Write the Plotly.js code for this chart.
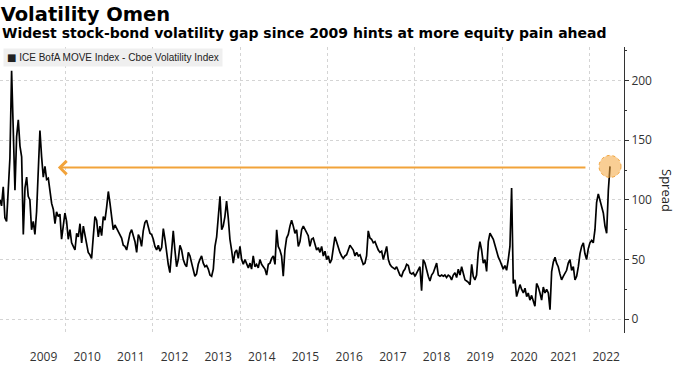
<!DOCTYPE html>
<html>
<head>
<meta charset="utf-8">
<script src="https://cdn.plot.ly/plotly-3.0.1.min.js"></script>
<style>html,body{margin:0;padding:0;background:#fff;}#chart{width:675px;height:365px;}</style>
</head>
<body>
<div id="chart"></div>
<script>
// ---- Data ----
const seriesName = 'ICE BofA MOVE Index - Cboe Volatility Index';
const firstDate = '2008-07-02';     // first observation
const stepDays = 13.94;             // spacing of the sampled observations

// Spread values, roughly every two weeks
const spread2008_2010 = [100,95,111,85,82,110,135,208,158,108,153,167,145,136,71,110,119,103,100,75,82,71,90,130,158,136,119,128,117,118,105,97,92,80,90,86,88,67,78,89,82,67,75,64,61,58,72,69,80,64,78,70,61,56,54,51,69,86,83,69,78,70,86,83];
const spread2010_2013 = [94,107,97,86,75,79,76,74,71,68,62,61,58,64,72,75,69,65,56,71,68,61,74,81,83,78,72,71,67,61,58,62,57,60,76,67,53,46,39,54,74,58,44,50,62,58,50,46,44,56,53,47,40,36,38,46,50,53,47,44];
const spread2013_2015 = [45,42,37,36,42,61,69,86,103,75,78,86,99,85,67,58,47,56,58,51,61,50,46,50,47,43,47,42,53,44,46,43,50,46,44,42,37,46,47,51,53,46,75,61,58,53,36,58,68,71,78,83,78,72,75,61,65,75,78,75];
const spread2015_2017 = [72,70,61,67,68,62,58,60,56,61,53,57,50,53,47,50,58,69,65,60,56,53,51,53,54,58,62,60,58,53,56,53,54,50,46,47,53,74,68,67,64,65,61,58,56,57,50,56,61,50,46,44,43,42,44,40,37,36,40,42];
const spread2017_2019 = [46,45,39,38,39,36,39,42,44,24,50,47,40,36,32,37,39,43,47,37,36,37,36,37,35,37,36,33,37,39,35,42,37,44,37,33,32,31,29,46,36,33,37,56,65,58,47,50,40,65,72,70,67,62,56,52,49,46,42,45];
const spread2020_2022 = [41,50,61,110,30,33,19,24,29,25,22,26,19,22,16,20,15,11,30,27,22,16,27,22,25,22,8,40,48,52,47,44,38,33,36,39,41,47,50,41,44,33,36,44,55,61,64,55,50,59,64,66,64,75,98,105,100,96,89,78,72,108,128];

// Axis labels
const yearLabels = ['2009','2010','2011','2012','2013','2014','2015','2016','2017','2018','2019','2020','2021','2022'];
const yearLabelDates = ['2009-07-01','2010-07-01','2011-07-01','2012-07-01','2013-07-01','2014-07-01','2015-07-01','2016-07-01','2017-07-01','2018-07-01','2019-07-01','2020-07-01','2021-06-01','2022-05-20'];
const xGridDates = ['2010-01-01','2012-01-01','2014-01-01','2016-01-01','2018-01-01','2020-01-01','2022-01-01'];
const yTicks = [0,50,100,150,200];
const xRange = ['2008-07-02','2022-10-16'];
const yRange = [-11.5,228];

// Annotation arrow: level and span
const arrowLevel = 127;
const arrowHeadDate = '2009-10-29';
const arrowTailDate = '2021-12-10';

// ---- Build ----
const spread = [].concat(spread2008_2010, spread2010_2013, spread2013_2015, spread2015_2017, spread2017_2019, spread2020_2022);
const t0 = Date.parse(firstDate + 'T00:00:00Z');
const dates = spread.map((_, i) => new Date(t0 + i * stepDays * 86400000).toISOString().slice(0, 10));
const lastDate = dates[dates.length - 1];
const lastVal = spread[spread.length - 1];

const orange = '#f2a33a';
const tickFont = {family: 'Open Sans', size: 12, color: '#333'};

const traces = [
  {x: dates, y: spread, type: 'scatter', mode: 'lines', name: seriesName,
   line: {color: '#000', width: 1.7}, showlegend: false, hoverinfo: 'skip', xaxis: 'x', yaxis: 'y'},
  {x: [xRange[0], xRange[1]], y: [null, null], type: 'scatter', mode: 'lines', showlegend: false,
   hoverinfo: 'skip', xaxis: 'x2', yaxis: 'y'}
];

const layout = {
  width: 675, height: 365,
  margin: {l: 0, r: 51, t: 47, b: 32, pad: 0},
  paper_bgcolor: '#fff', plot_bgcolor: '#fff',
  showlegend: false,
  title: {text: 'Volatility Omen', x: 0.001, xref: 'container', xanchor: 'left',
          y: 1 - 14 / 365, yref: 'container', yanchor: 'middle',
          font: {family: 'DejaVu Sans', size: 19.5, weight: 700, color: '#000'}},
  xaxis: {type: 'date', range: xRange, tickmode: 'array', tickvals: yearLabelDates, ticktext: yearLabels,
          showgrid: false, zeroline: false, showline: false, ticks: 'outside', ticklen: 13,
          tickcolor: 'rgba(0,0,0,0)', tickfont: tickFont, automargin: false, fixedrange: true},
  xaxis2: {type: 'date', range: xRange, overlaying: 'x', tickmode: 'array', tickvals: xGridDates,
           showgrid: true, gridcolor: '#d4d4d4', griddash: 'dot', gridwidth: 1,
           showticklabels: false, ticks: '', zeroline: false, showline: false, automargin: false},
  yaxis: {range: yRange, side: 'right', tickmode: 'array', tickvals: yTicks,
          showgrid: true, gridcolor: '#d4d4d4', griddash: 'dot', gridwidth: 1, zeroline: false,
          showline: true, linecolor: '#333', linewidth: 1,
          ticks: 'outside', ticklen: 4, tickcolor: '#333', tickfont: tickFont,
          minor: {dtick: 25, tick0: 0, ticks: 'outside', ticklen: 2, tickcolor: '#333', showgrid: false},
          automargin: false, fixedrange: true},
  annotations: [
    {text: 'Widest stock-bond volatility gap since 2009 hints at more equity pain ahead',
     xref: 'paper', yref: 'paper', x: 0, y: 1 + 14 / 286, xanchor: 'left', yanchor: 'middle',
     showarrow: false, font: {family: 'DejaVu Sans', size: 14, weight: 700, color: '#000'}},
    {text: '<span style="font-family:DejaVu Sans">■</span> ' + seriesName,
     xref: 'paper', yref: 'paper', x: 3 / 624, y: 1 - 10.5 / 286, xanchor: 'left', yanchor: 'middle',
     showarrow: false, bgcolor: '#efefef', borderpad: 3,
     font: {family: 'Liberation Sans', size: 10, color: '#222'}},
    {text: 'Spread', xref: 'paper', yref: 'paper', x: 667 / 624, y: 0.5, xanchor: 'center', yanchor: 'middle',
     textangle: 90, showarrow: false, font: {family: 'Open Sans', size: 13, color: '#222'}},
    {text: '', x: arrowHeadDate, y: arrowLevel, xref: 'x', yref: 'y',
     ax: arrowTailDate, ay: arrowLevel, axref: 'x', ayref: 'y',
     showarrow: true, arrowhead: 4, arrowsize: 1.3, arrowwidth: 2, arrowcolor: orange, standoff: 0, startstandoff: 0}
  ],
  shapes: [
    {type: 'circle', xref: 'x', yref: 'y', xsizemode: 'pixel', ysizemode: 'pixel',
     xanchor: lastDate, yanchor: lastVal, x0: -11, x1: 11, y0: -11, y1: 11,
     fillcolor: 'rgba(244,166,60,0.55)', line: {color: orange, width: 1, dash: 'dot'}, layer: 'above'}
  ]
};

Plotly.newPlot('chart', traces, layout, {staticPlot: true, displayModeBar: false});
</script>
</body>
</html>
